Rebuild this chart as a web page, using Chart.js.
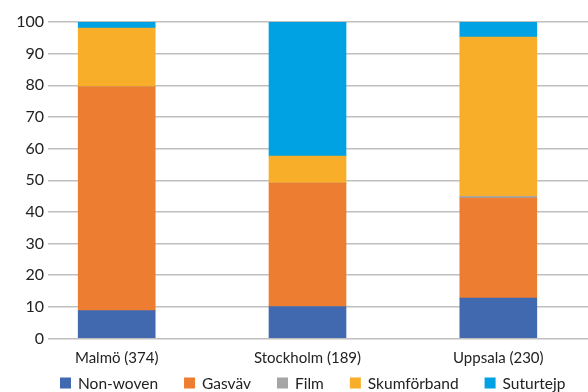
<!DOCTYPE html>
<html>
<head>
<meta charset="utf-8">
<script src="https://cdn.jsdelivr.net/npm/chart.js@4/dist/chart.umd.min.js"></script>
<style>
  html, body { margin:0; padding:0; background:#fff; }
  #wrap { width:588px; height:392px; }
</style>
</head>
<body>
<div id="wrap"><canvas id="chart" width="588" height="392"></canvas></div>
<script>
/* ---------------------------
   Data
   --------------------------- */
const cities = ['Malmö (374)', 'Stockholm (189)', 'Uppsala (230)'];
const nonWoven    = [8.8, 10.1, 12.8];
const gasvav      = [70.7, 39.0, 31.6];
const film        = [0, 0, 0.5];
const skumforband = [18.6, 8.5, 50.3];
const suturtejp   = [1.9, 42.4, 4.8];
const yTicks = [0, 10, 20, 30, 40, 50, 60, 70, 80, 90, 100];

const seriesNames  = ['Non-woven', 'Gasväv', 'Film', 'Skumförband', 'Suturtejp'];
const seriesValues = [nonWoven, gasvav, film, skumforband, suturtejp];
const seriesColors = ['#4069b0', '#ed7d31', '#a5a5a5', '#f8ae28', '#00a2e3'];

const FONT = 'Lato, "Open Sans", sans-serif';

// bars sit on a numeric x axis so the columns land where the labels are
const datasets = seriesNames.map((name, s) => ({
  label: name,
  data: seriesValues[s].map((v, i) => ({ x: i, y: v })),
  backgroundColor: seriesColors[s],
  borderWidth: 0,
  barThickness: 77
}));

/* legend row under the axis labels: square swatch + name, fixed gaps */
const bottomLegend = {
  id: 'bottomLegend',
  afterDraw(chart) {
    const ctx = chart.ctx;
    const y = 383, box = 11, gap = 26;
    let x = 60;
    ctx.save();
    ctx.font = '15.5px ' + FONT;
    ctx.textBaseline = 'middle';
    ctx.textAlign = 'left';
    chart.data.datasets.forEach(ds => {
      ctx.fillStyle = ds.backgroundColor;
      ctx.fillRect(x, y - box / 2, box, box);
      ctx.fillStyle = '#222';
      ctx.fillText(ds.label, x + box + 7, y + 1);
      x += box + 7 + ctx.measureText(ds.label).width + gap;
    });
    ctx.restore();
  }
};

new Chart(document.getElementById('chart').getContext('2d'), {
  type: 'bar',
  data: { datasets },
  plugins: [bottomLegend],
  options: {
    responsive: false,
    animation: false,
    layout: { padding: { top: 22, right: 0, left: 0, bottom: 14.5 } },
    plugins: {
      tooltip: { enabled: false },
      legend: { display: false }
    },
    scales: {
      x: {
        type: 'linear',
        stacked: true,
        offset: false,
        min: -0.36,
        max: 2.47,
        grid: { display: false, drawTicks: false },
        border: { display: false },
        afterBuildTicks: sc => { sc.ticks = cities.map((_, i) => ({ value: i })); },
        ticks: {
          font: { family: FONT, size: 15 },
          color: '#222',
          padding: 10.5,
          maxRotation: 0,
          autoSkip: false,
          callback: v => cities[v]
        }
      },
      y: {
        stacked: true,
        min: 0,
        max: 100,
        afterBuildTicks: sc => { sc.ticks = yTicks.map(v => ({ value: v })); },
        afterFit: sc => { sc.width = 48; },
        grid: { color: '#bfbfbf', lineWidth: 1.5, drawTicks: false },
        border: { display: false },
        ticks: {
          font: { family: FONT, size: 16 },
          color: '#222',
          padding: 4
        }
      }
    }
  }
});
</script>
</body>
</html>
